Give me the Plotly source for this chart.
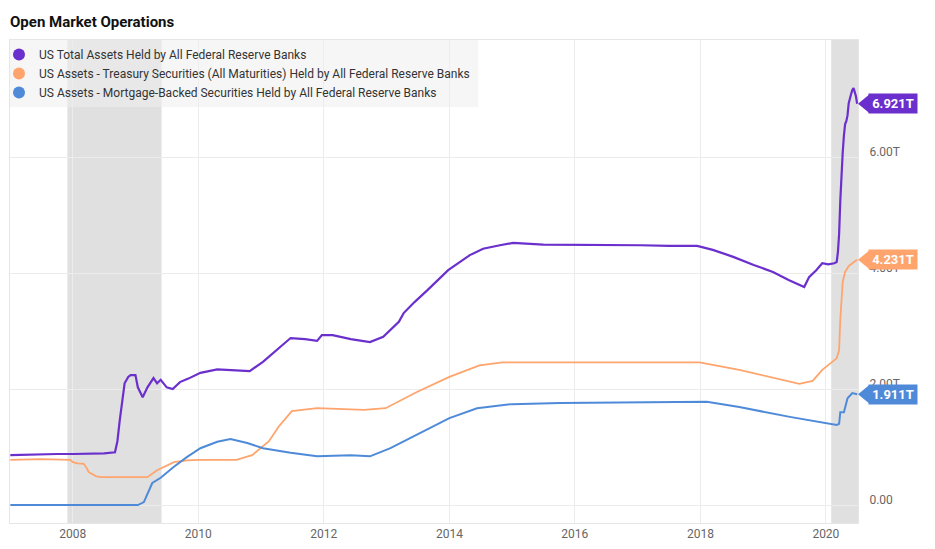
import plotly.graph_objects as go

# Fed balance sheet, trillions of USD
total_dates = ['2007-01-03', '2007-04-04', '2007-07-04', '2007-10-03', '2008-01-02', '2008-04-02',
               '2008-07-02', '2008-09-03', '2008-09-17', '2008-10-01', '2008-10-15', '2008-10-29',
               '2008-11-19', '2008-12-03', '2008-12-31', '2009-01-14', '2009-02-11', '2009-02-25',
               '2009-03-11', '2009-04-15', '2009-05-06', '2009-05-27', '2009-07-01', '2009-08-05',
               '2009-09-16', '2009-11-04', '2010-01-13', '2010-04-21', '2010-07-07', '2010-10-27',
               '2011-01-12', '2011-04-06', '2011-06-22', '2011-09-14', '2011-11-23', '2011-12-21',
               '2012-02-22', '2012-06-06', '2012-09-26', '2012-12-12', '2013-03-13', '2013-04-10',
               '2013-06-12', '2013-08-28', '2013-12-25', '2014-04-30', '2014-07-16', '2014-10-22',
               '2015-01-07', '2015-07-01', '2016-01-06', '2016-07-06', '2017-01-18', '2017-07-05',
               '2017-12-13', '2018-03-14', '2018-07-11', '2018-11-07', '2019-02-27', '2019-05-29',
               '2019-08-28', '2019-09-25', '2019-11-06', '2019-12-11', '2020-01-15', '2020-02-19',
               '2020-03-04', '2020-03-11', '2020-03-18', '2020-03-25', '2020-04-01', '2020-04-08',
               '2020-04-15', '2020-04-22', '2020-04-29', '2020-05-06', '2020-05-13', '2020-05-20',
               '2020-05-27', '2020-06-03', '2020-06-10', '2020-06-17', '2020-06-24', '2020-07-01']
total_assets = [0.86, 0.87, 0.87, 0.88, 0.88, 0.88,
                0.89, 0.91, 1.10, 1.47, 1.80, 2.10,
                2.21, 2.24, 2.24, 2.03, 1.86, 1.95,
                2.03, 2.19, 2.10, 2.16, 2.03, 2.00,
                2.12, 2.18, 2.28, 2.34, 2.33, 2.31,
                2.47, 2.68, 2.88, 2.86, 2.83, 2.93,
                2.93, 2.86, 2.81, 2.90, 3.16, 3.31,
                3.50, 3.71, 4.05, 4.31, 4.42, 4.48,
                4.52, 4.49, 4.49, 4.48, 4.48, 4.47,
                4.47, 4.40, 4.28, 4.14, 4.02, 3.88,
                3.76, 3.93, 4.05, 4.17, 4.15, 4.17,
                4.19, 4.36, 4.67, 5.25, 5.80, 6.08,
                6.37, 6.57, 6.62, 6.72, 6.93, 7.03,
                7.09, 7.16, 7.19, 7.12, 7.05, 6.921]

treasury_dates = ['2007-01-03', '2007-06-27', '2007-12-19', '2008-01-02', '2008-01-30', '2008-03-05',
                  '2008-03-26', '2008-04-02', '2008-05-14', '2008-06-11', '2008-12-31', '2009-03-11',
                  '2009-05-06', '2009-08-12', '2009-10-28', '2010-01-06', '2010-08-11', '2010-11-10',
                  '2011-02-16', '2011-04-13', '2011-06-29', '2011-11-23', '2012-08-22', '2012-12-26',
                  '2013-06-26', '2014-01-01', '2014-06-25', '2014-11-05', '2015-06-03', '2016-06-01',
                  '2017-06-07', '2017-12-27', '2018-08-15', '2019-02-27', '2019-07-31', '2019-10-16',
                  '2019-12-11', '2020-03-04', '2020-03-18', '2020-03-25', '2020-04-01', '2020-04-08',
                  '2020-04-22', '2020-05-13', '2020-06-03', '2020-07-01']
treasury = [0.78, 0.79, 0.78, 0.74, 0.72, 0.71,
            0.62, 0.57, 0.50, 0.48, 0.48, 0.48,
            0.60, 0.74, 0.77, 0.78, 0.78, 0.86,
            1.10, 1.35, 1.62, 1.67, 1.64, 1.67,
            1.95, 2.21, 2.41, 2.46, 2.46, 2.46,
            2.47, 2.46, 2.33, 2.19, 2.09, 2.14,
            2.33, 2.53, 2.67, 3.20, 3.60, 3.85,
            4.02, 4.12, 4.17, 4.231]

mbs_dates = ['2007-01-03', '2008-12-31', '2009-01-14', '2009-02-18', '2009-03-11', '2009-04-08',
             '2009-05-27', '2009-08-12', '2009-10-28', '2010-01-13', '2010-04-21', '2010-07-07',
             '2010-10-13', '2011-01-12', '2011-06-22', '2011-11-23', '2012-06-06', '2012-09-26',
             '2013-01-23', '2013-06-26', '2014-01-01', '2014-06-11', '2014-12-31', '2015-10-07',
             '2017-03-29', '2018-02-07', '2018-08-15', '2019-06-05', '2020-03-04', '2020-03-18',
             '2020-03-25', '2020-04-15', '2020-05-06', '2020-06-03', '2020-07-01']
mbs = [0.00, 0.00, 0.00, 0.05, 0.20, 0.38,
       0.47, 0.66, 0.83, 0.98, 1.09, 1.14,
       1.07, 0.98, 0.90, 0.84, 0.86, 0.84,
       0.98, 1.21, 1.50, 1.67, 1.74, 1.76,
       1.78, 1.78, 1.69, 1.52, 1.38, 1.40,
       1.60, 1.60, 1.84, 1.93, 1.911]

recessions = [('2007-12-01', '2009-06-01'), ('2020-02-01', '2020-07-06')]

names = ['US Total Assets Held by All Federal Reserve Banks',
         'US Assets - Treasury Securities (All Maturities) Held by All Federal Reserve Banks',
         'US Assets - Mortgage-Backed Securities Held by All Federal Reserve Banks']
colors = ['#6a2fcc', '#ffa46c', '#4f8ad9']

# the page body has an 8px margin, so the figure is drawn 8px smaller and everything
# below is given in window pixels and shifted back
OFF = 8
W, H = 935 - OFF, 549 - OFF
L, R, T, B = 10, 858, 40, 523   # plot area in window pixels
def px(x):
    return (x - L) / (R - L)
def py(y):
    return (B - y) / (B - T)

fig = go.Figure()

series = [(total_dates, total_assets, 2.2), (treasury_dates, treasury, 1.8), (mbs_dates, mbs, 2)]
for (d, v, w), name, c in zip(series, names, colors):
    fig.add_trace(go.Scatter(x=d, y=v, mode='lines', line=dict(color=c, width=w),
                             name=name, showlegend=False))
# legend entries with dots
for name, c in zip(names, colors):
    fig.add_trace(go.Scatter(x=[None], y=[None], mode='markers', name=name,
                             marker=dict(color=c, size=6)))

shapes = []
for a, b in recessions:
    shapes.append(dict(type='rect', xref='x', yref='paper', x0=a, x1=b, y0=0, y1=1,
                       fillcolor='#e0e0e0', line_width=0, layer='between'))
# legend background
shapes.append(dict(type='rect', xref='paper', yref='paper', x0=px(10), x1=px(478),
                   y0=py(107), y1=py(40), fillcolor='rgba(238,238,238,0.55)', line_width=0, layer='above'))
# right scroll strip of the page
shapes.append(dict(type='rect', xref='paper', yref='paper', x0=px(931), x1=px(935),
                   y0=py(363), y1=py(OFF), fillcolor='#d4d4d4', line_width=0))

# end-value tags
annotations = []
for v, c in zip([total_assets[-1], treasury[-1], mbs[-1]], colors):
    shapes.append(dict(type='path', xref='paper', yref='y', xsizemode='pixel', ysizemode='pixel',
                       xanchor=1, yanchor=v, path='M 0,0 L 11,9 L 11,-9 Z',
                       fillcolor=c, line_width=0))
    annotations.append(dict(xref='paper', yref='y', x=1, y=v, xanchor='left', yanchor='middle',
                            xshift=10, text='<b>%.3fT</b>' % v, showarrow=False,
                            bgcolor=c, borderpad=2, width=44, height=15,
                            font=dict(family='Roboto', size=13, color='white')))

fig.update_layout(
    width=W, height=H,
    margin=dict(l=L - OFF, r=935 - R, t=T - OFF, b=549 - B, autoexpand=False),
    plot_bgcolor='white', paper_bgcolor='white',
    font=dict(family='Roboto', size=12, color='#666'),
    title=dict(text='<b>Open Market Operations</b>', x=px(10), xref='paper', xanchor='left',
               y=1 - (22 - OFF) / H, yanchor='middle',
               font=dict(family='Roboto', size=15, color='#111')),
    legend=dict(x=px(-1), y=1, xanchor='left', yanchor='top', bgcolor='rgba(0,0,0,0)',
                font=dict(family='Roboto', size=12, color='#333'), tracegroupgap=0,
                itemsizing='constant'),
    shapes=shapes, annotations=annotations,
    showlegend=True,
)
fig.update_xaxes(type='date', range=['2007-01-01', '2020-07-06'], tick0='2008-01-01', dtick='M24',
                 tickformat='%Y', showgrid=True, gridcolor='#ececec', zeroline=False,
                 showline=True, linecolor='#e6e6e6', mirror=True, ticks='',
                 tickfont=dict(size=12, color='#666'))
fig.update_yaxes(side='right', range=[-0.31, 8.02], tickvals=[0, 2, 4, 6],
                 ticktext=['0.00', '2.00T', '4.00T', '6.00T'], showgrid=True, gridcolor='#ececec',
                 zeroline=False, showline=True, linecolor='#e6e6e6', mirror=True, ticks='',
                 ticklabelstandoff=8, ticklabelshift=-5, tickfont=dict(size=12, color='#666'))

fig.write_html("out.html")
